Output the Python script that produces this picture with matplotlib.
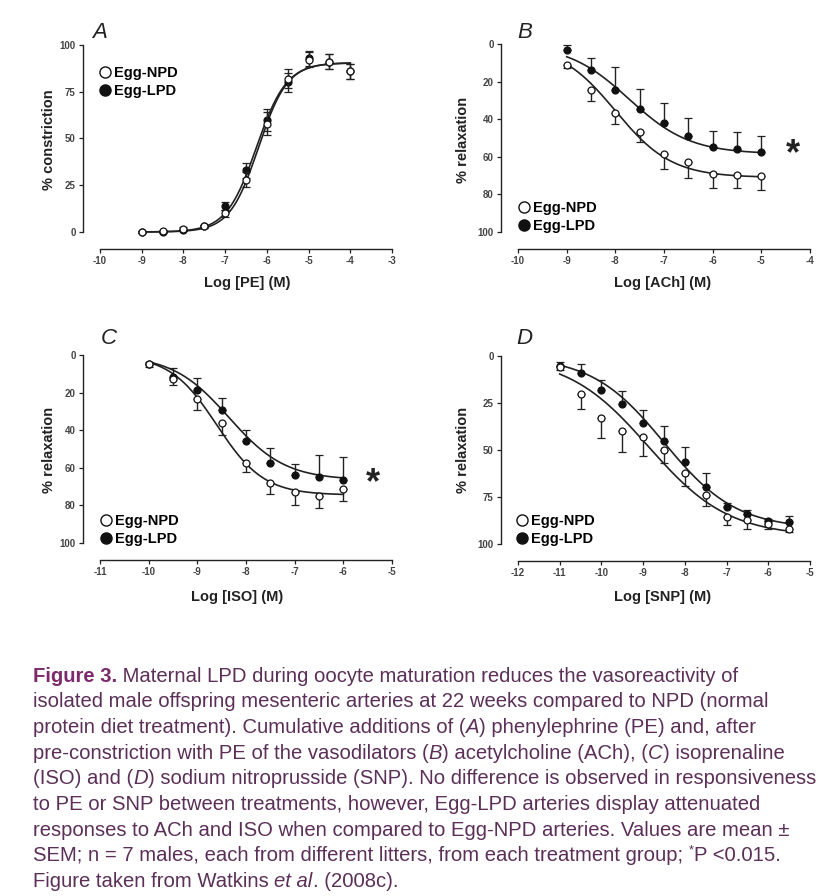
import numpy as np
import matplotlib
matplotlib.use("Agg")
import matplotlib.pyplot as plt
from matplotlib.lines import Line2D
from matplotlib.font_manager import FontProperties

W, H = 832, 896

# ---- data (mean, SEM) ----
# A: phenylephrine, % constriction
pe_dose = [-9, -8.5, -8, -7.5, -7, -6.5, -6, -5.5, -5, -4.5, -4]
pe_npd = [0, 0.5, 1.5, 3, 10, 28, 58, 82, 92, 91, 86]
pe_npd_err = [0.5, 0.5, 1, 1, 2, 4, 6, 5, 4, 4, 4]
pe_lpd = [0, 0, 1, 3, 14, 33, 60, 80, 93, 91, 86]
pe_lpd_err = [0.5, 0.5, 0.5, 1, 2, 4, 6, 5, 4, 4, 4]
pe_fit_npd = (90.5, -6.2, 1.25)   # top, logEC50, hill
pe_fit_lpd = (90.5, -6.25, 1.2)

# B: acetylcholine, % relaxation
ach_dose = [-9, -8.5, -8, -7.5, -7, -6.5, -6, -5.5, -5]
ach_npd = [11, 24.5, 36.5, 47, 58.5, 63, 69, 69.5, 70]
ach_npd_err = [2, 6, 6, 5, 8, 8.5, 7.5, 7, 7.5]
ach_lpd = [3, 14, 24.5, 34.5, 42, 49, 55, 56, 57.5]
ach_lpd_err = [2.5, 6.5, 12, 10.5, 10.5, 9.7, 8.7, 9.4, 8.5]
ach_fit_npd = (71, -8.0, 0.75)
ach_fit_lpd = (58.5, -7.72, 0.69)

# C: isoprenaline, % relaxation
iso_dose = [-10, -9.5, -9, -8.5, -8, -7.5, -7, -6.5, -6]
iso_npd = [5, 13, 23.5, 36, 57.5, 68, 73, 75, 71.5]
iso_npd_err = [1.5, 3, 5.5, 6.5, 5, 6, 7, 6.5, 6]
iso_lpd = [5, 11.5, 18.5, 29, 45.5, 57.5, 64, 65, 66.5]
iso_lpd_err = [1.5, 4.5, 6.3, 6, 5.5, 8, 6, 12, 12.5]
iso_fit_npd = (74.5, -8.6, 0.9)
iso_fit_lpd = (66.5, -8.35, 0.75)

# D: sodium nitroprusside, % relaxation
snp_dose = [-11, -10.5, -10, -9.5, -9, -8.5, -8, -7.5, -7, -6.5, -6, -5.5]
snp_npd = [6, 20, 33, 40, 43, 50, 62, 74, 85.5, 87.5, 89.5, 92]
snp_npd_err = [1.5, 8, 10.5, 11, 10, 7, 7, 6, 4.5, 4.5, 2.5, 1.5]
snp_lpd = [5.5, 9, 18, 25.5, 35.5, 45, 56.5, 69.5, 80.5, 84, 88, 88.5]
snp_lpd_err = [2.5, 5, 5, 7, 7, 8, 8, 7, 2.5, 2, 1.2, 3.5]
snp_fit_npd = (96, -8.88, 0.45)
snp_fit_lpd = (92, -8.5, 0.5)

caption_lines = [
    [("Figure 3.", "b"), (" Maternal LPD during oocyte maturation reduces the vasoreactivity of", "n")],
    [("isolated male offspring mesenteric arteries at 22 weeks compared to NPD (normal", "n")],
    [("protein diet treatment). Cumulative additions of (", "n"), ("A", "i"),
     (") phenylephrine (PE) and, after", "n")],
    [("pre-constriction with PE of the vasodilators (", "n"), ("B", "i"), (") acetylcholine (ACh), (", "n"),
     ("C", "i"), (") isoprenaline", "n")],
    [("(ISO) and (", "n"), ("D", "i"), (") sodium nitroprusside (SNP). No difference is observed in responsiveness", "n")],
    [("to PE or SNP between treatments, however, Egg-LPD arteries display attenuated", "n")],
    [("responses to ACh and ISO when compared to Egg-NPD arteries. Values are mean \u00b1", "n")],
    [("SEM; n = 7 males, each from different litters, from each treatment group; ", "n"), ("*", "s"),
     ("P <0.015.", "n")],
    [("Figure taken from Watkins ", "n"), ("et al", "i"), (". (2008c).", "n")],
]

plt.rcParams['font.family'] = ['Liberation Sans', 'DejaVu Sans']
plt.rcParams['axes.unicode_minus'] = False


def logistic(x, top, ec50, hill):
    return top / (1 + 10 ** ((ec50 - x) * hill))


def px(x, y):
    return x / W, 1 - y / H


fig = plt.figure(figsize=(W / 100, H / 100), dpi=100)

panels = [
    # box is (left, top, right, bottom) in pixels for the data range
    dict(letter="A", box=(100, 45, 392, 232), xlim=(-10, -3), yticks=[0, 25, 50, 75, 100], inv=False,
         dose=pe_dose, npd=pe_npd, npd_err=pe_npd_err, lpd=pe_lpd, lpd_err=pe_lpd_err,
         fn=pe_fit_npd, fl=pe_fit_lpd, xlabel="Log [PE] (M)", ylabel="% constriction",
         letter_xy=(92, 32), leg_xy=(101, 66), star=None, xlab_xy=(247, 283), ylab_xy=(49, 140)),
    dict(letter="B", box=(518, 44, 810, 232), xlim=(-10, -4), yticks=[0, 20, 40, 60, 80, 100], inv=True,
         dose=ach_dose, npd=ach_npd, npd_err=ach_npd_err, lpd=ach_lpd, lpd_err=ach_lpd_err,
         fn=ach_fit_npd, fl=ach_fit_lpd, xlabel="Log [ACh] (M)", ylabel="% relaxation",
         letter_xy=(517, 32), leg_xy=(520, 201), star=(793, 155), xlab_xy=(663, 283), ylab_xy=(463, 140)),
    dict(letter="C", box=(100, 355, 392, 543), xlim=(-11, -5), yticks=[0, 20, 40, 60, 80, 100], inv=True,
         dose=iso_dose, npd=iso_npd, npd_err=iso_npd_err, lpd=iso_lpd, lpd_err=iso_lpd_err,
         fn=iso_fit_npd, fl=iso_fit_lpd, xlabel="Log [ISO] (M)", ylabel="% relaxation",
         letter_xy=(101, 338), leg_xy=(102, 514), star=(373, 484), xlab_xy=(237, 597), ylab_xy=(49, 450)),
    dict(letter="D", box=(518, 356, 810, 544), xlim=(-12, -5), yticks=[0, 25, 50, 75, 100], inv=True,
         dose=snp_dose, npd=snp_npd, npd_err=snp_npd_err, lpd=snp_lpd, lpd_err=snp_lpd_err,
         fn=snp_fit_npd, fl=snp_fit_lpd, xlabel="Log [SNP] (M)", ylabel="% relaxation",
         letter_xy=(516, 338), leg_xy=(518, 514), star=None, xlab_xy=(663, 597), ylab_xy=(463, 450)),
]

for p in panels:
    l, t, r, b = p["box"]
    ax = fig.add_axes([l / W, 1 - b / H, (r - l) / W, (b - t) / H])
    ax.set_xlim(*p["xlim"])
    if p["inv"]:
        ax.set_ylim(100, 0)
    else:
        ax.set_ylim(0, 100)
    ax.patch.set_alpha(0)
    for s in ["top", "right"]:
        ax.spines[s].set_visible(False)
    ax.spines["left"].set_position(("outward", 12.5))
    ax.spines["bottom"].set_position(("outward", 12.5))
    for s in ["left", "bottom"]:
        ax.spines[s].set_linewidth(1.0)
        ax.spines[s].set_color("#222222")
    ax.set_yticks(p["yticks"])
    ax.set_xticks(np.arange(p["xlim"][0], p["xlim"][1] + 1))
    ax.tick_params(length=3, width=0.9, colors="#222222", labelsize=7, pad=2)
    for lab in ax.get_xticklabels() + ax.get_yticklabels():
        lab.set_fontweight("bold")
        lab.set_color("#444444")

    dose = np.array(p["dose"])
    xs = np.linspace(dose[0], dose[-1], 200)
    ax.plot(xs, logistic(xs, *p["fn"]), color="#222222", lw=1.2, clip_on=False, zorder=2)
    ax.plot(xs, logistic(xs, *p["fl"]), color="#222222", lw=1.2, clip_on=False, zorder=2)

    # relaxation panels show one-sided bars pointing away from the other curve
    if p["inv"]:
        npd_e = [np.zeros(len(dose)), p["npd_err"]]
        lpd_e = [p["lpd_err"], np.zeros(len(dose))]
    else:
        npd_e = p["npd_err"]
        lpd_e = p["lpd_err"]
    ax.errorbar(dose, p["npd"], yerr=npd_e, fmt="o", ms=5, mfc="white", mec="#111111", mew=0.9,
                ecolor="#222222", elinewidth=1.0, capsize=3, capthick=1.0, clip_on=False, zorder=4)
    ax.errorbar(dose, p["lpd"], yerr=lpd_e, fmt="o", ms=5, mfc="#111111", mec="#111111", mew=0.9,
                ecolor="#222222", elinewidth=1.0, capsize=3, capthick=1.0, clip_on=False, zorder=3)

    handles = [Line2D([], [], ls="", marker="o", ms=8, mfc="white", mec="#111111", mew=1.0),
               Line2D([], [], ls="", marker="o", ms=8, mfc="#111111", mec="#111111", mew=1.0)]
    ax.legend(handles, ["Egg-NPD", "Egg-LPD"], loc="upper left",
              bbox_to_anchor=px(*p["leg_xy"]), bbox_transform=fig.transFigure,
              frameon=False, handlelength=0.6, handletextpad=0.3, labelspacing=0.3,
              borderpad=0, borderaxespad=0, prop=dict(size=10.5, weight="bold"))

    fig.text(*px(*p["letter_xy"]), p["letter"], fontsize=16, style="italic",
             ha="left", va="center", color="#222222")
    fig.text(*px(*p["xlab_xy"]), p["xlabel"], fontsize=10.5, fontweight="bold",
             ha="center", va="center", color="#222222")
    fig.text(*px(*p["ylab_xy"]), p["ylabel"], fontsize=10.5, fontweight="bold", rotation=90,
             ha="center", va="center", color="#222222")
    if p["star"]:
        fig.text(*px(*p["star"]), "*", fontsize=26, fontweight="bold", ha="center", va="center",
                 color="#222222")

# ---- caption ----
renderer = fig.canvas.get_renderer()
cap_family = ['Liberation Sans Narrow', 'Liberation Sans', 'DejaVu Sans']
body_col = "#5b2f58"
title_col = "#7d2a6d"


def seg_props(kind, size):
    if kind == "b":
        return FontProperties(family=cap_family, weight="bold", size=size)
    if kind == "i":
        return FontProperties(family=cap_family, style="italic", size=size)
    if kind == "s":
        return FontProperties(family=cap_family, size=size * 0.65)
    return FontProperties(family=cap_family, size=size)


def seg_width(txt, fp):
    # width in pixels, with trailing spaces counted
    bar = renderer.get_text_width_height_descent("|", fp, ismath=False)[0]
    w = renderer.get_text_width_height_descent(txt + "|", fp, ismath=False)[0]
    return w - bar


# pick size so the longest line spans about 785 px
size = 16
ref_w = sum(seg_width(s, seg_props(k, size)) for s, k in caption_lines[4])
size = size * 785 / ref_w

x0 = 33
y0 = 676
step = 25.7
for i, line in enumerate(caption_lines):
    x = x0
    y = y0 + i * step
    for txt, kind in line:
        fp = seg_props(kind, size)
        col = title_col if kind == "b" else body_col
        yy = y - (5 if kind == "s" else 0)
        fig.text(x / W, 1 - yy / H, txt, fontproperties=fp, color=col, ha="left", va="center")
        x += seg_width(txt, fp)

fig.savefig("out.png", dpi=100)
